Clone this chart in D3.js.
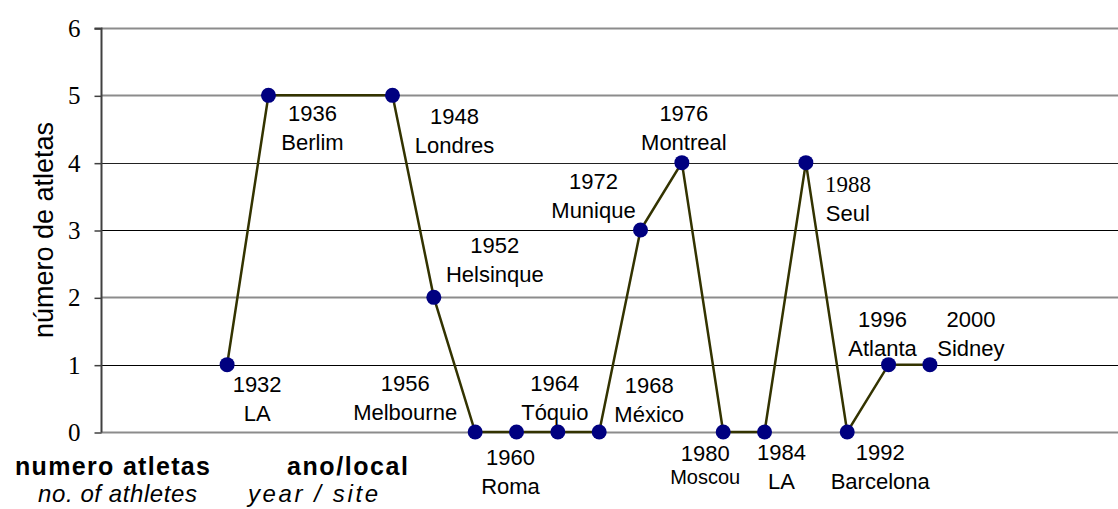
<!DOCTYPE html>
<html><head><meta charset="utf-8">
<script src="https://cdn.jsdelivr.net/npm/d3@7"></script>
<style>body{margin:0;background:#fff;} svg{display:block;}</style>
</head><body>
<script>
// ---- data ----
const years = [1932,1936,1948,1952,1956,1960,1964,1968,1972,1976,1980,1984,1988,1992,1996,2000];
const sites = ["LA","Berlim","Londres","Helsinque","Melbourne","Roma","Tóquio","México","Munique","Montreal","Moscou","LA","Seul","Barcelona","Atlanta","Sidney"];
const athletes = [1,5,5,2,0,0,0,0,3,4,0,0,4,0,1,1];
const yTicks = [0,1,2,3,4,5,6];
const yTitle = "número de atletas";
const footBold = ["numero atletas","ano/local"];
const footItalic = ["no. of athletes","year / site"];

// ---- layout (label offsets from point, px) ----
const labelOffsets = [[30,27],[44,26],[62,29],[61,-44],[-70,-41],[-6,33],[-3,-41],[50,-39],[-47,-41],[2,-42],[-18,29],[17,28],[42,29],[33,28],[-6,-38],[41,-38]];

const W = 1118, H = 509;
const serifFont = "'Liberation Serif', 'Times New Roman', 'DejaVu Serif', serif";
const svg = d3.select("body").append("svg").attr("width", W).attr("height", H);
const x = d3.scaleLinear().domain([1919.7, 2018.2]).range([100, 1118]);
const y = d3.scaleLinear().domain([0, 6]).range([432, 28]);

const dark = new Set([1,3,4]);
// gridlines
svg.append("g").selectAll("line").data(yTicks).join("line")
  .attr("x1", 101).attr("x2", W)
  .attr("y1", d => Math.round(y(d)) + 0.5).attr("y2", d => Math.round(y(d)) + 0.5)
  .attr("stroke", d => dark.has(d) ? (d===4 ? "#222" : "#000") : "#8c8c8c")
  .attr("stroke-width", d => dark.has(d) ? 1.2 : 2);

// y axis
const yAxis = d3.axisLeft(y).tickValues(yTicks).tickFormat(d3.format("d")).tickSize(7).tickPadding(14);
const ga = svg.append("g").attr("transform", "translate(101.5,0.5)").call(yAxis);
ga.attr("font-family", serifFont).attr("font-size", 25);
ga.select(".domain").attr("stroke", "#404040").attr("stroke-width", 2).attr("d", `M-7,${y(6)}H0V${y(0)}`);
ga.selectAll(".tick line").attr("stroke", "#404040").attr("stroke-width", 1.5);
ga.selectAll(".tick text").attr("fill", "#000");

// y title
svg.append("text").attr("transform", `translate(53,230) rotate(-90)`)
  .attr("text-anchor", "middle").attr("font-family", "'Liberation Sans', Arial, sans-serif")
  .attr("font-size", 27).text(yTitle);

const pts = years.map((yr, i) => ({yr, v: athletes[i], site: sites[i], off: labelOffsets[i]}));

// line
svg.append("path").datum(pts)
  .attr("d", d3.line().x(d => x(d.yr)).y(d => y(d.v)))
  .attr("fill", "none").attr("stroke", "#333300").attr("stroke-width", 2.5);

// points
svg.append("g").selectAll("circle").data(pts).join("circle")
  .attr("cx", d => x(d.yr)).attr("cy", d => y(d.v)).attr("r", 7.5).attr("fill", "#000080");

// labels
const lg = svg.append("g").attr("font-family", "'Liberation Sans', Arial, sans-serif").attr("font-size", 22).attr("text-anchor", "middle");
pts.forEach(d => {
  const cx = x(d.yr) + d.off[0], by = y(d.v) + d.off[1];
  const serif = d.yr === 1988;
  const small = d.yr === 1980;
  const t = lg.append("text").attr("x", cx).attr("y", by).text(d.yr);
  if (serif) t.attr("font-family", serifFont).attr("font-size", 23);
  lg.append("text").attr("x", cx).attr("y", by + (small ? 23 : 29))
    .attr("font-size", small ? 20 : null).text(d.site);
});

// footer
const ff = "'Liberation Sans', Arial, sans-serif";
svg.append("text").attr("x", 15).attr("y", 475).attr("font-family", ff).attr("font-weight", 900).attr("font-size", 25).attr("textLength", 195).text(footBold[0]);
svg.append("text").attr("x", 287).attr("y", 475).attr("font-family", ff).attr("font-weight", 900).attr("font-size", 25).attr("textLength", 121).text(footBold[1]);
svg.append("text").attr("x", 38).attr("y", 502).attr("font-family", ff).attr("font-style", "italic").attr("font-size", 24).attr("textLength", 159).text(footItalic[0]);
svg.append("text").attr("x", 248).attr("y", 502).attr("font-family", ff).attr("font-style", "italic").attr("font-size", 24).attr("textLength", 130).text(footItalic[1]);
</script>
</body></html>
